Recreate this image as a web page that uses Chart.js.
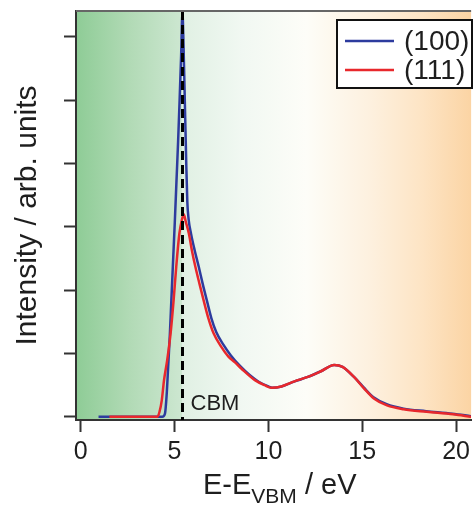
<!DOCTYPE html>
<html>
<head>
<meta charset="utf-8">
<title>Intensity vs E-E(VBM)</title>
<script src="https://cdn.jsdelivr.net/npm/chart.js@4.4.1/dist/chart.umd.min.js"></script>
<style>
  html, body { margin: 0; padding: 0; background: #fff; }
  canvas { display: block; }
</style>
</head>
<body>
<canvas id="spectrum" width="475" height="507"></canvas>
<script>
// (100) surface: energy in eV, intensity in arb. units
const energy100 = [0.95, 4.35, 4.49, 4.58, 4.66, 4.75, 4.83, 4.92, 5.01, 5.10, 5.19, 5.27, 5.35, 5.42,
    5.48, 5.55, 5.62, 5.68, 5.75, 5.88, 6.08, 6.29, 6.50, 6.72, 6.96, 7.22, 7.60, 8.00, 8.50, 9.00, 9.50,
    10.0, 10.2, 10.7, 11.4, 12.1, 12.8, 13.5, 13.95, 14.56, 15.09, 15.6, 16.3, 17.2, 18.4, 19.8, 20.8];
const intensity100 = [0, 0, 0.05, 0.35, 0.79, 1.30, 1.84, 2.45, 3.05, 3.70, 4.35, 5.00, 5.70, 6.38,
    5.85, 4.95, 4.05, 3.40, 3.12, 2.89, 2.62, 2.37, 2.10, 1.84, 1.56, 1.34, 1.14, 0.97, 0.80, 0.66, 0.55,
    0.48, 0.46, 0.48, 0.56, 0.63, 0.72, 0.82, 0.79, 0.63, 0.46, 0.31, 0.20, 0.13, 0.09, 0.05, 0.01];

// (111) surface
const energy111 = [1.53, 4.09, 4.20, 4.32, 4.44, 4.61, 4.79, 4.95, 5.09, 5.26, 5.40, 5.49, 5.60, 5.76,
    5.93, 6.11, 6.33, 6.55, 6.80, 7.08, 7.50, 7.87, 8.22, 8.57, 9.28, 9.80, 10.16, 10.69, 11.39, 12.1,
    12.8, 13.51, 13.95, 14.56, 15.09, 15.62, 16.32, 17.2, 18.44, 19.85, 20.8];
const intensity111 = [0, 0, 0.08, 0.26, 0.58, 0.90, 1.32, 1.84, 2.37, 2.90, 3.12, 3.20, 3.08, 2.90,
    2.62, 2.37, 2.10, 1.84, 1.56, 1.32, 1.10, 0.95, 0.86, 0.76, 0.58, 0.50, 0.46, 0.48, 0.56, 0.63,
    0.72, 0.82, 0.79, 0.63, 0.45, 0.29, 0.18, 0.12, 0.08, 0.04, 0.0];

const seriesLabels = ['(100)', '(111)'];
const seriesColors = ['#2d3b9e', '#e8282c'];
const xTicks = [0, 5, 10, 15, 20];
const yTicks = [0, 1, 2, 3, 4, 5, 6];
const cbmEnergy = 5.4;
const cbmLabel = 'CBM';

const FONT = "'Liberation Sans', Arial, sans-serif";
const INK = '#1e1e1e';

const toPoints = (xs, ys) => xs.map((x, i) => ({ x: x, y: ys[i] }));

// Shaded background: green below the CBM fading out, orange towards high energy
const backgroundShade = {
    id: 'backgroundShade',
    beforeDraw(chart) {
        const { ctx, chartArea: a, scales: { x } } = chart;
        const xc = x.getPixelForValue(cbmEnergy);
        ctx.save();
        let g = ctx.createLinearGradient(a.left, 0, xc, 0);
        g.addColorStop(0, '#8ecc96');
        g.addColorStop(0.5, '#b1dab5');
        g.addColorStop(1, '#cde7d1');
        ctx.fillStyle = g;
        ctx.fillRect(a.left, a.top, xc - a.left, a.bottom - a.top);

        g = ctx.createLinearGradient(xc, 0, a.right, 0);
        const span = a.right - xc;
        const stop = e => Math.min(1, Math.max(0, (x.getPixelForValue(e) - xc) / span));
        g.addColorStop(0, '#e0f0e3');
        g.addColorStop(stop(8.6), '#f1f8f2');
        g.addColorStop(stop(12), '#fdfdf8');
        g.addColorStop(stop(15.5), '#fdf0de');
        g.addColorStop(stop(18.2), '#fde4c4');
        g.addColorStop(1, '#fbd4a4');
        ctx.fillStyle = g;
        ctx.fillRect(xc, a.top, span, a.bottom - a.top);
        ctx.restore();
    }
};

// Dashed CBM marker with its label
const cbmMarker = {
    id: 'cbmMarker',
    afterDatasetsDraw(chart) {
        const { ctx, chartArea: a, scales: { x } } = chart;
        const xc = Math.round(x.getPixelForValue(cbmEnergy)) + 0.5;
        ctx.save();
        ctx.strokeStyle = '#000';
        ctx.lineWidth = 3;
        ctx.setLineDash([9, 5]);
        ctx.beginPath();
        ctx.moveTo(xc, a.top);
        ctx.lineTo(xc, a.bottom);
        ctx.stroke();
        ctx.setLineDash([]);
        ctx.fillStyle = INK;
        ctx.font = '22px ' + FONT;
        ctx.textBaseline = 'alphabetic';
        ctx.fillText(cbmLabel, xc + 8, a.bottom - 10);
        ctx.restore();
    }
};

// Top frame line, boxed legend and the x title with its subscript
const frameAndLegend = {
    id: 'frameAndLegend',
    afterDraw(chart) {
        const { ctx, chartArea: a } = chart;
        ctx.save();
        ctx.strokeStyle = '#666';
        ctx.lineWidth = 2;
        ctx.beginPath();
        ctx.moveTo(a.left, a.top);
        ctx.lineTo(a.right, a.top);
        ctx.stroke();

        // legend
        const bx = 337, by = 20, bw = 135, bh = 68;
        ctx.fillStyle = '#fff';
        ctx.fillRect(bx, by, bw, bh);
        ctx.strokeStyle = '#111';
        ctx.lineWidth = 2;
        ctx.strokeRect(bx, by, bw, bh);
        ctx.font = '28px ' + FONT;
        ctx.textBaseline = 'middle';
        seriesLabels.forEach((label, i) => {
            const ly = by + 21 + i * 29;
            ctx.strokeStyle = seriesColors[i];
            ctx.lineWidth = 2.5;
            ctx.beginPath();
            ctx.moveTo(bx + 8, ly);
            ctx.lineTo(bx + 57, ly);
            ctx.stroke();
            ctx.fillStyle = INK;
            ctx.fillText(label, bx + 67, ly + 1);
        });

        // x axis title: E-E_VBM / eV
        ctx.textBaseline = 'alphabetic';
        let tx = 203;
        const ty = 494;
        ctx.font = '29px ' + FONT;
        ctx.fillText('E-E', tx, ty);
        tx += ctx.measureText('E-E').width;
        ctx.font = '21px ' + FONT;
        ctx.fillText('VBM', tx, ty + 9);
        tx += ctx.measureText('VBM').width;
        ctx.font = '29px ' + FONT;
        ctx.fillText(' / eV', tx, ty);
        ctx.restore();
    }
};

new Chart(document.getElementById('spectrum').getContext('2d'), {
    type: 'line',
    data: {
        datasets: [
            {
                label: seriesLabels[0],
                data: toPoints(energy100, intensity100),
                borderColor: seriesColors[0],
                borderWidth: 2.5,
                order: 1
            },
            {
                label: seriesLabels[1],
                data: toPoints(energy111, intensity111),
                borderColor: seriesColors[1],
                borderWidth: 2.5,
                order: 0
            }
        ]
    },
    options: {
        responsive: false,
        animation: false,
        layout: { padding: { top: 11, right: 0, left: 0, bottom: 0 } },
        elements: {
            point: { radius: 0 },
            line: { cubicInterpolationMode: 'monotone', fill: false }
        },
        plugins: {
            legend: { display: false },
            tooltip: { enabled: false }
        },
        scales: {
            x: {
                type: 'linear',
                min: -0.25,
                max: 20.8,
                afterBuildTicks: s => { s.ticks = xTicks.map(v => ({ value: v })); },
                afterFit: s => { s.height = 87; },
                border: { display: true, color: '#333', width: 2 },
                grid: { drawOnChartArea: false, drawTicks: true, tickLength: 12, tickColor: '#333', tickWidth: 2 },
                ticks: { color: INK, font: { family: FONT, size: 25 }, padding: 5, maxRotation: 0 }
            },
            y: {
                type: 'linear',
                min: -0.05,
                max: 6.41,
                afterBuildTicks: s => { s.ticks = yTicks.map(v => ({ value: v })); },
                afterFit: s => { s.width = 76; },
                border: { display: true, color: '#333', width: 2 },
                grid: { drawOnChartArea: false, drawTicks: true, tickLength: 12, tickColor: '#333', tickWidth: 2 },
                ticks: { callback: () => '', padding: 0 },
                title: {
                    display: true,
                    text: 'Intensity / arb. units',
                    color: INK,
                    font: { family: FONT, size: 30 },
                    padding: { top: 10, bottom: 0 }
                }
            }
        }
    },
    plugins: [backgroundShade, cbmMarker, frameAndLegend]
});
</script>
</body>
</html>
